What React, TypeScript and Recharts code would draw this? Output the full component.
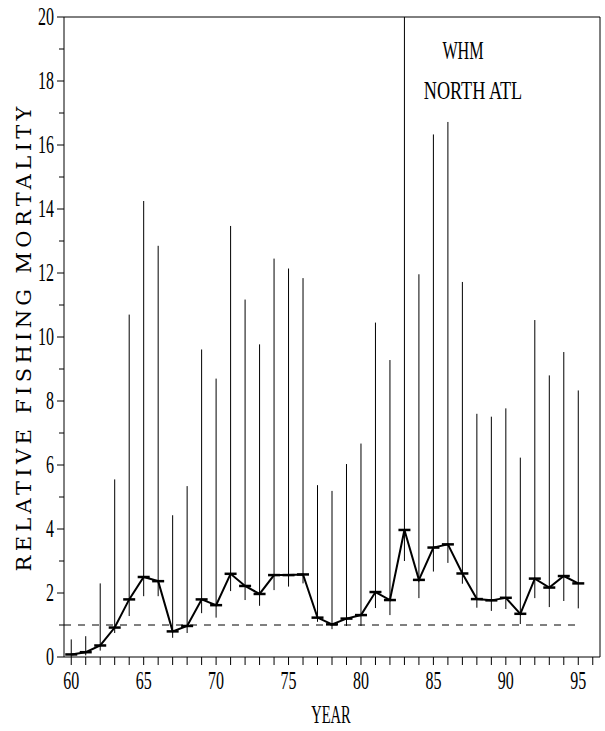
import React from "react";
import { ComposedChart, Line, XAxis, YAxis, ErrorBar, ReferenceLine } from "recharts";

// Relative fishing mortality, white marlin, North Atlantic
const years = [
  60, 61, 62, 63, 64, 65, 66, 67, 68, 69, 70, 71, 72, 73, 74, 75, 76, 77,
  78, 79, 80, 81, 82, 83, 84, 85, 86, 87, 88, 89, 90, 91, 92, 93, 94, 95,
];
const fm = [
  0.08, 0.15, 0.36, 0.92, 1.8, 2.5, 2.37, 0.8, 0.97, 1.8, 1.62, 2.6, 2.22, 1.97, 2.56, 2.56, 2.58, 1.23,
  1.02, 1.2, 1.31, 2.03, 1.78, 3.97, 2.41, 3.42, 3.52, 2.61, 1.81, 1.77, 1.85, 1.35, 2.45, 2.17, 2.53, 2.3,
];
const upper = [
  0.55, 0.65, 2.3, 5.55, 10.7, 14.25, 12.85, 4.43, 5.34, 9.61, 8.7, 13.47, 11.17, 9.77, 12.45, 12.14, 11.84, 5.37,
  5.19, 6.03, 6.67, 10.45, 9.28, 20, 11.96, 16.33, 16.72, 11.72, 7.6, 7.51, 7.77, 6.23, 10.53, 8.8, 9.53, 8.33,
];
const lower = [
  0.0, 0.05, 0.2, 0.75, 1.28, 1.9, 1.9, 0.6, 0.75, 1.37, 1.23, 2.06, 1.78, 1.6, 2.09, 2.2, 2.3, 1.1,
  0.87, 0.97, 0.97, 1.53, 1.31, 3.0, 1.84, 2.67, 2.94, 2.29, 1.54, 1.44, 1.5, 1.03, 1.84, 1.56, 1.75, 1.52,
];
const xTicks = [
  60, 61, 62, 63, 64, 65, 66, 67, 68, 69, 70, 71, 72, 73, 74, 75, 76, 77, 78,
  79, 80, 81, 82, 83, 84, 85, 86, 87, 88, 89, 90, 91, 92, 93, 94, 95, 96,
];
const yTicks = [0, 1, 2, 3, 4, 5, 6, 7, 8, 9, 10, 11, 12, 13, 14, 15, 16, 17, 18, 19, 20];

const rows = years.map((yr, i) => ({
  year: yr,
  fm: fm[i],
  err: [fm[i] - lower[i], upper[i] - fm[i]],
}));

const serif = { fontFamily: "'Liberation Serif', 'Times New Roman', serif" };

const XTick = (props: any) => {
  const { x, y, payload } = props;
  const v = payload.value as number;
  return (
    <g>
      <line x1={x} x2={x} y1={y} y2={y + 8} stroke="#000" />
      {v % 5 === 0 && (
        <text
          x={x}
          y={y + 32}
          textAnchor="middle"
          style={serif}
          fontSize={25}
          textLength={16}
          lengthAdjust="spacingAndGlyphs"
          fill="#000"
        >
          {v}
        </text>
      )}
    </g>
  );
};

const YTick = (props: any) => {
  const { x, y, payload } = props;
  const v = payload.value as number;
  const major = v % 2 === 0;
  const s = String(v);
  return (
    <g>
      <line x1={x} x2={x - (major ? 7 : 5)} y1={y} y2={y} stroke="#000" />
      {major && (
        <text
          x={x - 10}
          y={y + 8}
          textAnchor="end"
          style={serif}
          fontSize={25}
          textLength={s.length * 8}
          lengthAdjust="spacingAndGlyphs"
          fill="#000"
        >
          {s}
        </text>
      )}
    </g>
  );
};

const Dash = (props: any) => {
  const { cx, cy, index } = props;
  return <line key={index} x1={cx - 6} x2={cx + 6} y1={cy} y2={cy} stroke="#000" strokeWidth={2.5} />;
};

// narrow serif caption, squeezed horizontally around its centre
const Narrow = ({ x, y, size, sx, children }: any) => (
  <text
    transform={`translate(${x},${y}) scale(${sx},1)`}
    textAnchor="middle"
    style={serif}
    fontSize={size}
    fill="#000"
  >
    {children}
  </text>
);

export default function App() {
  return (
    <div style={{ position: "absolute", left: 0, top: 0, width: 605, height: 731, background: "#fff" }}>
      <ComposedChart width={605} height={731} data={rows} margin={{ top: 17, right: 5, left: 0, bottom: 0 }}>
        <XAxis
          dataKey="year"
          type="number"
          domain={[59.5, 96.5]}
          ticks={xTicks}
          interval={0}
          height={74}
          tickSize={0}
          tickMargin={0}
          tickLine={false}
          axisLine={{ stroke: "#000" }}
          tick={XTick}
        />
        <YAxis
          type="number"
          domain={[0, 20]}
          ticks={yTicks}
          interval={0}
          width={64}
          tickSize={0}
          tickMargin={0}
          tickLine={false}
          axisLine={{ stroke: "#000" }}
          tick={YTick}
          allowDataOverflow
        />
        <ReferenceLine y={20} stroke="#000" />
        <ReferenceLine x={96.5} stroke="#000" />
        <ReferenceLine
          segment={[
            { x: 59.5, y: 1 },
            { x: 95, y: 1 },
          ]}
          stroke="#000"
          strokeDasharray="7 7"
        />
        <Line
          dataKey="fm"
          stroke="#000"
          strokeWidth={2}
          dot={Dash}
          activeDot={false}
          isAnimationActive={false}
        >
          <ErrorBar dataKey="err" width={0} stroke="#000" strokeWidth={1} direction="y" />
        </Line>
      </ComposedChart>
      <svg
        width={605}
        height={731}
        style={{ position: "absolute", left: 0, top: 0, pointerEvents: "none" }}
      >
        <Narrow x={463} y={59} size={26} sx={0.62}>
          WHM
        </Narrow>
        <Narrow x={473} y={99} size={26} sx={0.7}>
          NORTH ATL
        </Narrow>
        <Narrow x={331} y={723} size={26} sx={0.56}>
          YEAR
        </Narrow>
        <text
          x={0}
          y={0}
          transform="translate(31,339) rotate(-90)"
          textAnchor="middle"
          style={{ fontFamily: "'DejaVu Serif', serif" }}
          fontSize={21}
          textLength={465}
          lengthAdjust="spacing"
          fill="#000"
        >
          RELATIVE FISHING MORTALITY
        </text>
      </svg>
    </div>
  );
}
